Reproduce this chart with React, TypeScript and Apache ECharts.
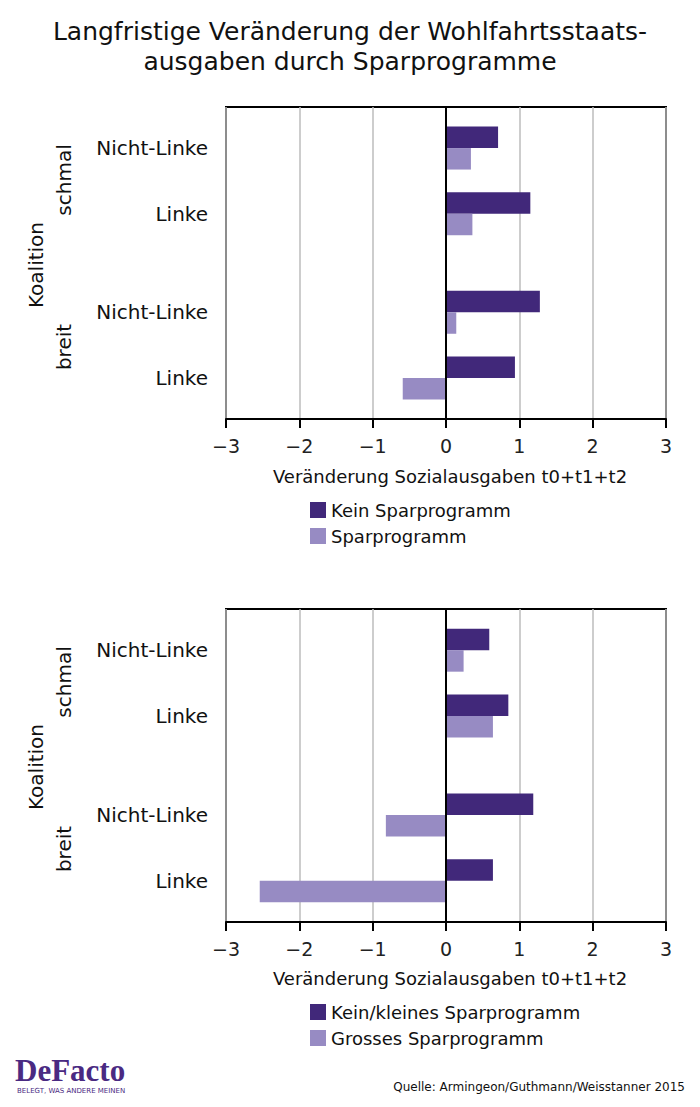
import React, { useEffect, useRef } from "react";
import * as echarts from "echarts";

// ---------- data ----------
const TITLE_LINES = ["Langfristige Veränderung der Wohlfahrtsstaats-", "ausgaben durch Sparprogramme"];
const PARTIES = ["Nicht-Linke", "Linke", "Nicht-Linke", "Linke"];
const COALITIONS = ["schmal", "breit"];
const Y_TITLE = "Koalition";
const X_TITLE = "Veränderung Sozialausgaben t0+t1+t2";
const X_MIN = -3;
const X_MAX = 3;
const X_STEP = 1;

const TOP_NAMES = ["Kein Sparprogramm", "Sparprogramm"];
const TOP_KEIN = [0.71, 1.15, 1.28, 0.94];
const TOP_SPAR = [0.34, 0.36, 0.14, -0.59];

const BOTTOM_NAMES = ["Kein/kleines Sparprogramm", "Grosses Sparprogramm"];
const BOTTOM_KEIN = [0.59, 0.85, 1.19, 0.64];
const BOTTOM_GROSS = [0.24, 0.64, -0.82, -2.54];

const SOURCE = "Quelle: Armingeon/Guthmann/Weisstanner 2015";
const LOGO = "DeFacto";
const LOGO_TAG = "BELEGT, WAS ANDERE MEINEN";

// ---------- layout ----------
const SLOT_COUNT = 19;
const ROW_SLOTS = [2, 6, 12, 16];
const PANEL_TOPS = [107, 609];
const PANEL_HEIGHTS = [312, 313];
const PLOT_LEFT = 226;
const PLOT_WIDTH = 440;
const DARK = "#41287a";
const LIGHT = "#978bc3";
const FONT = "DejaVu Sans";
const TEXT = "#111";

function slotData(values: number[]) {
  const arr: (number | string)[] = Array.from({ length: SLOT_COUNT }, () => "-");
  ROW_SLOTS.forEach((s, i) => {
    arr[s] = values[i];
  });
  return arr;
}

const slotIds = Array.from({ length: SLOT_COUNT }, (_, i) => "slot" + i);

export default function App() {
  const ref = useRef<HTMLDivElement>(null);

  useEffect(() => {
    if (!ref.current) return;
    const chart = echarts.init(ref.current, null, { renderer: "svg" });

    const grids = PANEL_TOPS.map((top, i) => ({
      left: PLOT_LEFT,
      top,
      width: PLOT_WIDTH,
      height: PANEL_HEIGHTS[i],
      show: true,
      borderColor: "#000",
      borderWidth: 2,
      backgroundColor: "transparent",
    }));

    const xAxes = PANEL_TOPS.map((_, i) => ({
      type: "value",
      gridIndex: i,
      min: X_MIN,
      max: X_MAX,
      interval: X_STEP,
      axisLine: { show: true, lineStyle: { color: "#000", width: 2 } },
      axisTick: { show: true, length: 9, lineStyle: { color: "#000", width: 2 } },
      axisLabel: {
        fontSize: 19,
        fontFamily: FONT,
        color: "#222",
        margin: 17,
        formatter: (v: number) => (v < 0 ? "\u2212" + Math.abs(v) : String(v)),
      },
      splitLine: { show: true, lineStyle: { color: "#bdbdbd", width: 1.5 } },
    }));

    const yAxes = PANEL_TOPS.map((_, i) => ({
      type: "category",
      gridIndex: i,
      inverse: true,
      data: slotIds,
      axisLine: { show: false },
      axisTick: { show: false },
      splitLine: { show: false },
      axisLabel: {
        interval: 0,
        fontSize: 20,
        fontFamily: FONT,
        color: TEXT,
        margin: 18,
        formatter: (_v: string, idx: number) => {
          const r = ROW_SLOTS.indexOf(idx);
          return r >= 0 ? PARTIES[r] : "";
        },
      },
    }));

    const zeroLine = {
      silent: true,
      symbol: "none",
      label: { show: false },
      lineStyle: { color: "#000", width: 2, type: "solid" },
      data: [{ xAxis: 0 }],
    };

    const mkSeries = (name: string, values: number[], color: string, gi: number, withZero: boolean) => ({
      type: "bar",
      name,
      xAxisIndex: gi,
      yAxisIndex: gi,
      data: slotData(values),
      barWidth: 21.5,
      barGap: "0%",
      itemStyle: { color },
      ...(withZero ? { markLine: zeroLine } : {}),
    });

    const series = [
      mkSeries(TOP_NAMES[0], TOP_KEIN, DARK, 0, true),
      mkSeries(TOP_NAMES[1], TOP_SPAR, LIGHT, 0, false),
      mkSeries(BOTTOM_NAMES[0], BOTTOM_KEIN, DARK, 1, true),
      mkSeries(BOTTOM_NAMES[1], BOTTOM_GROSS, LIGHT, 1, false),
    ];

    const legends = [TOP_NAMES, BOTTOM_NAMES].map((names, i) => ({
      data: names,
      orient: "vertical",
      left: 310,
      top: PANEL_TOPS[i] + 394,
      padding: 0,
      itemWidth: 16,
      itemHeight: 16,
      itemGap: 8,
      icon: "rect",
      selectedMode: false,
      textStyle: { fontSize: 18, fontFamily: FONT, color: TEXT },
    }));

    const graphics: any[] = [
      {
        type: "text",
        x: 350,
        y: 31,
        style: { text: TITLE_LINES[0], fontSize: 25, fontFamily: FONT, fill: TEXT, align: "center", verticalAlign: "middle" },
      },
      {
        type: "text",
        x: 350,
        y: 61,
        style: { text: TITLE_LINES[1], fontSize: 25, fontFamily: FONT, fill: TEXT, align: "center", verticalAlign: "middle" },
      },
    ];

    PANEL_TOPS.forEach((top) => {
      const dy = top - PANEL_TOPS[0];
      graphics.push({
        type: "text",
        x: 35.5,
        y: 265 + dy,
        rotation: Math.PI / 2,
        style: { text: Y_TITLE, fontSize: 20, fontFamily: FONT, fill: TEXT, align: "center", verticalAlign: "middle" },
      });
      graphics.push({
        type: "text",
        x: 64,
        y: 180 + dy,
        rotation: Math.PI / 2,
        style: { text: COALITIONS[0], fontSize: 20, fontFamily: FONT, fill: TEXT, align: "center", verticalAlign: "middle" },
      });
      graphics.push({
        type: "text",
        x: 64,
        y: 347 + dy,
        rotation: Math.PI / 2,
        style: { text: COALITIONS[1], fontSize: 20, fontFamily: FONT, fill: TEXT, align: "center", verticalAlign: "middle" },
      });
      graphics.push({
        type: "text",
        x: 450,
        y: 476 + dy,
        style: { text: X_TITLE, fontSize: 18, fontFamily: FONT, fill: TEXT, align: "center", verticalAlign: "middle" },
      });
    });

    graphics.push({
      type: "text",
      x: 15,
      y: 1070,
      style: { text: LOGO, fontSize: 31, fontFamily: "Liberation Serif", fontWeight: "bold", fill: "#4a2a82", align: "left", verticalAlign: "middle" },
    });
    graphics.push({
      type: "text",
      x: 17,
      y: 1091,
      style: { text: LOGO_TAG, fontSize: 7, fontFamily: FONT, fill: "#4a2a82", align: "left", verticalAlign: "middle" },
    });
    graphics.push({
      type: "text",
      x: 685,
      y: 1087,
      style: { text: SOURCE, fontSize: 12, fontFamily: FONT, fill: TEXT, align: "right", verticalAlign: "middle" },
    });

    chart.setOption({
      animation: false,
      backgroundColor: "#fff",
      grid: grids,
      xAxis: xAxes,
      yAxis: yAxes,
      series,
      legend: legends,
      graphic: graphics,
    });

    return () => chart.dispose();
  }, []);

  return <div ref={ref} style={{ position: "absolute", left: 0, top: 0, width: 700, height: 1107 }} />;
}
